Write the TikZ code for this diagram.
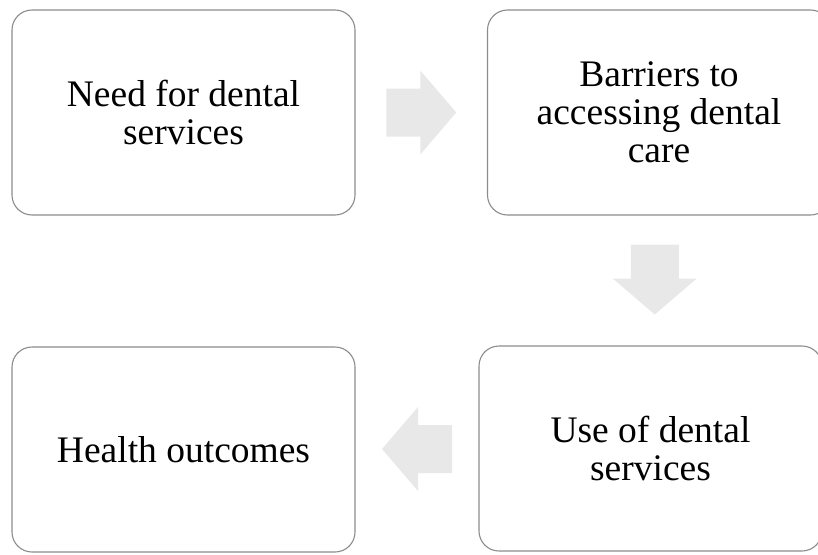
\documentclass[tikz,border=0pt]{standalone}
\usepackage{fontspec}
\setmainfont{Liberation Serif}
\usepackage{tikz}
\usetikzlibrary{calc}

\begin{document}
\begin{tikzpicture}[x=1pt,y=-1pt,
    stage/.style={draw=black!45,line width=1.1pt,rounded corners=20pt,fill=white,
      minimum width=343pt,minimum height=205pt,align=center,
      font=\fontsize{37.5}{38}\selectfont},
    blockarrow/.pic={
      \fill[black!9] (-35,-24) -- (-1,-24) -- (-1,-42) -- (35,0) -- (-1,42)
        -- (-1,24) -- (-35,24) -- cycle;}]
      \clip (0,0) rectangle (818,554);

      \node[stage] (need) at (183.5,112.5) {Need for dental\\services};
      \node[stage] (barriers) at (659,112.5) {Barriers to\\accessing dental\\care};
      \node[stage] (use) at (650.5,448.5) {Use of dental\\services};
      \node[stage] (health) at (183.5,449.5) {Health outcomes};

      \coordinate (m1) at ($(need.east)!0.5!(barriers.west)$);
      \coordinate (m2) at ($(barriers.south)!0.5!(use.north)+(0,-1)$);
      \coordinate (m3) at ($(use.west)!0.5!(health.east)$);
      \pic at (m1) {blockarrow};
      \pic[rotate=-90] at (m2) {blockarrow};
      \pic[rotate=180] at (m3) {blockarrow};
\end{tikzpicture}
\end{document}
